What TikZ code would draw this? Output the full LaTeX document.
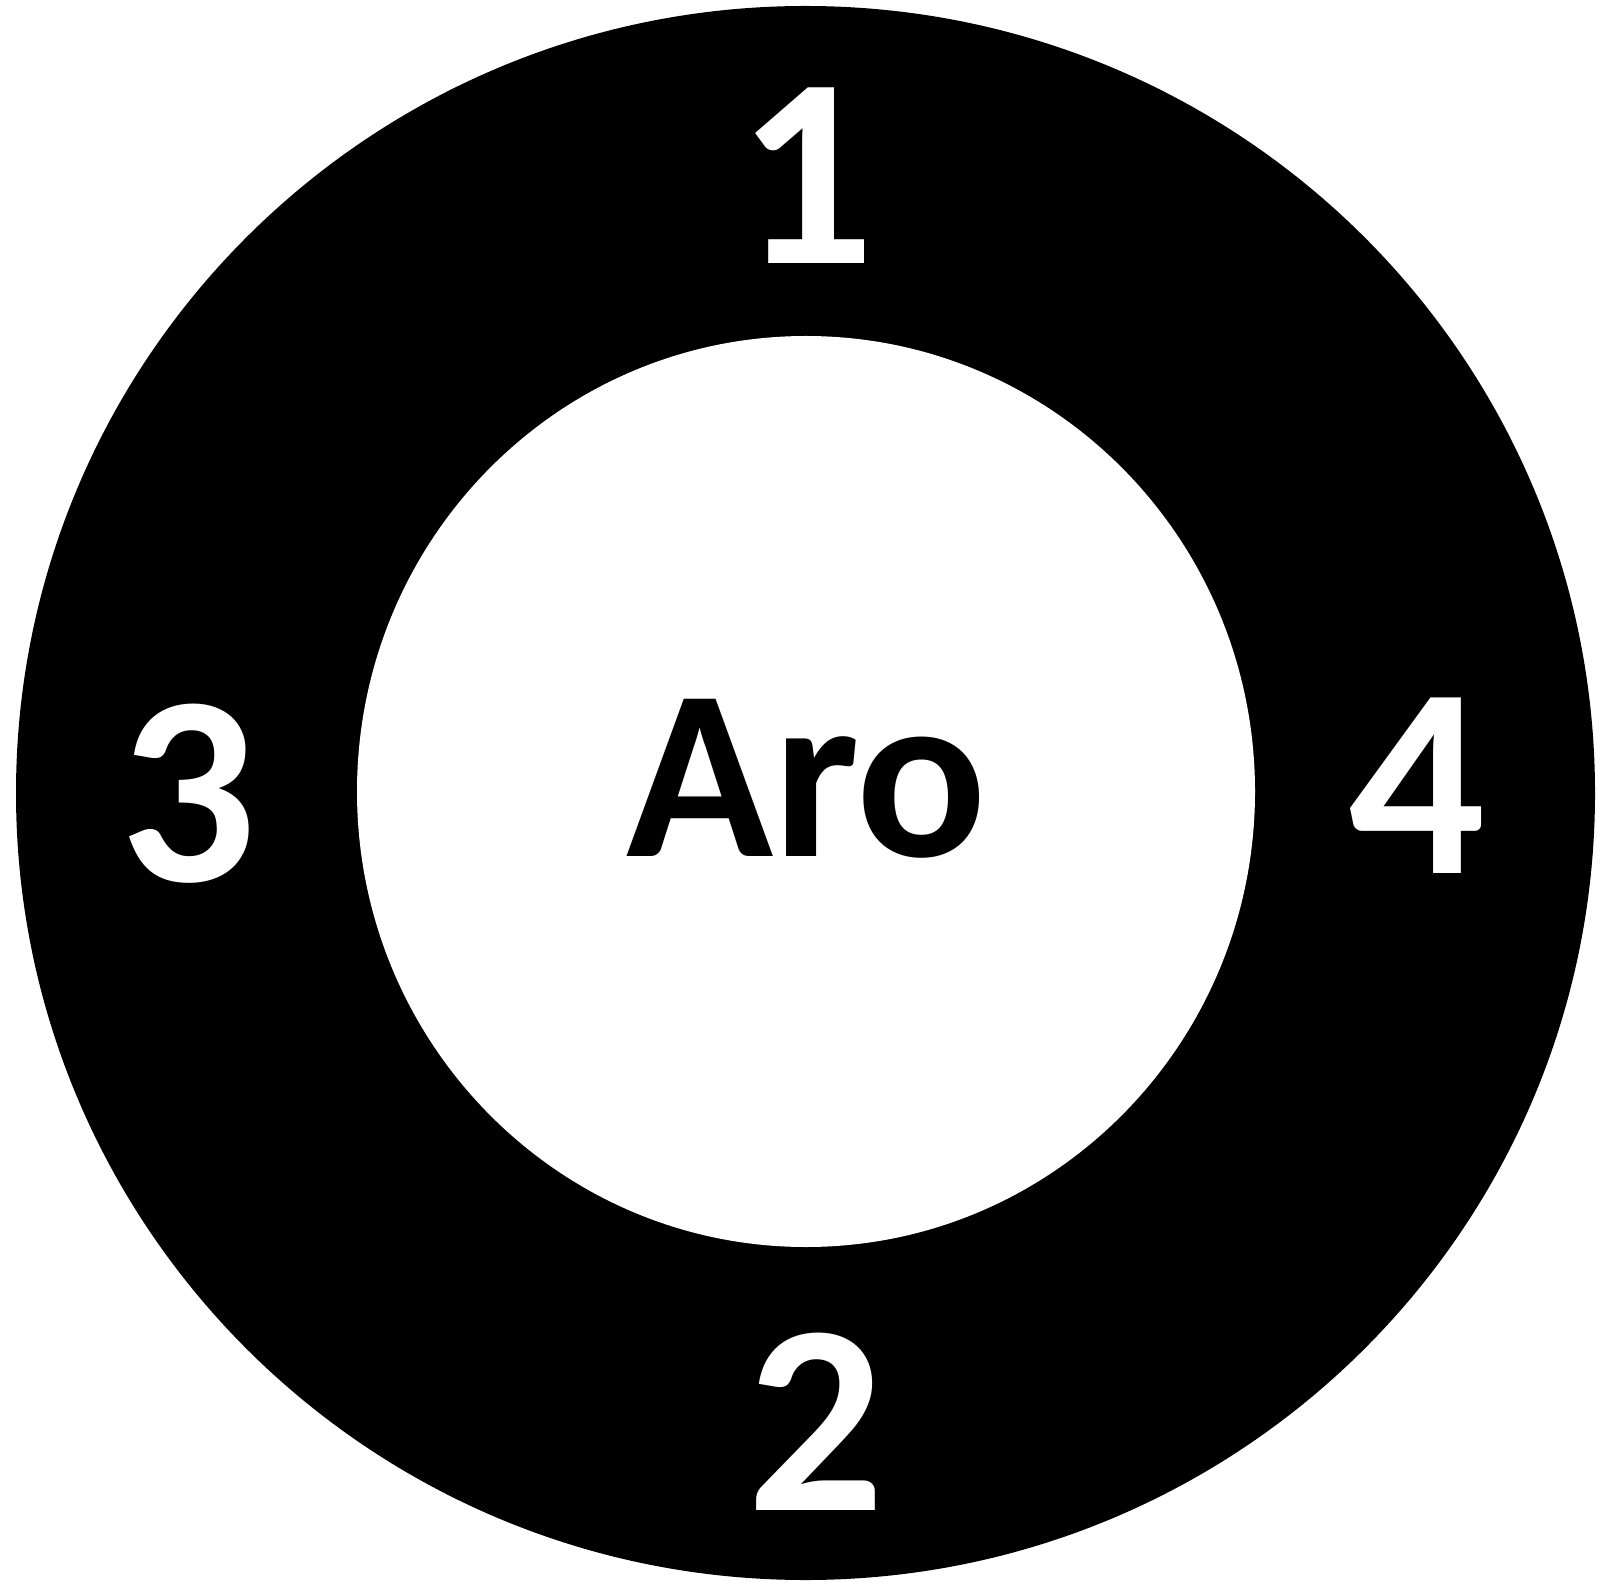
\documentclass[tikz,border=0pt]{standalone}
\usepackage{fontspec}
\setmainfont{Carlito}
\usetikzlibrary{positioning,shapes.geometric}
\begin{document}
\begin{tikzpicture}[inner sep=0pt,
    digit/.style={text=white, font=\bfseries\fontsize{77}{77}\selectfont}]
    \useasboundingbox (0,0) rectangle (16,15.87);
    % Ring
    \node [ellipse, fill=black, minimum width=15.79cm, minimum height=15.74cm] (rim) at (8.055,7.94) {};
    \node [ellipse, fill=white, minimum width=8.98cm, minimum height=9.11cm] (hub) at (8.06,7.955) {};

    % Nodes
    \node [digit] (one) at (8.06,14.115) {1};
    \node [digit] (two) at (8.16,1.65) {2};
    \node [digit] (three) at (1.885,7.93) {3};
    \node [digit] (four) at (14.17,8.01) {4};
    \node [text=black, font=\bfseries\fontsize{69}{69}\selectfont] (aro) at (8.07,8.085) {Aro};
\end{tikzpicture}
\end{document}
